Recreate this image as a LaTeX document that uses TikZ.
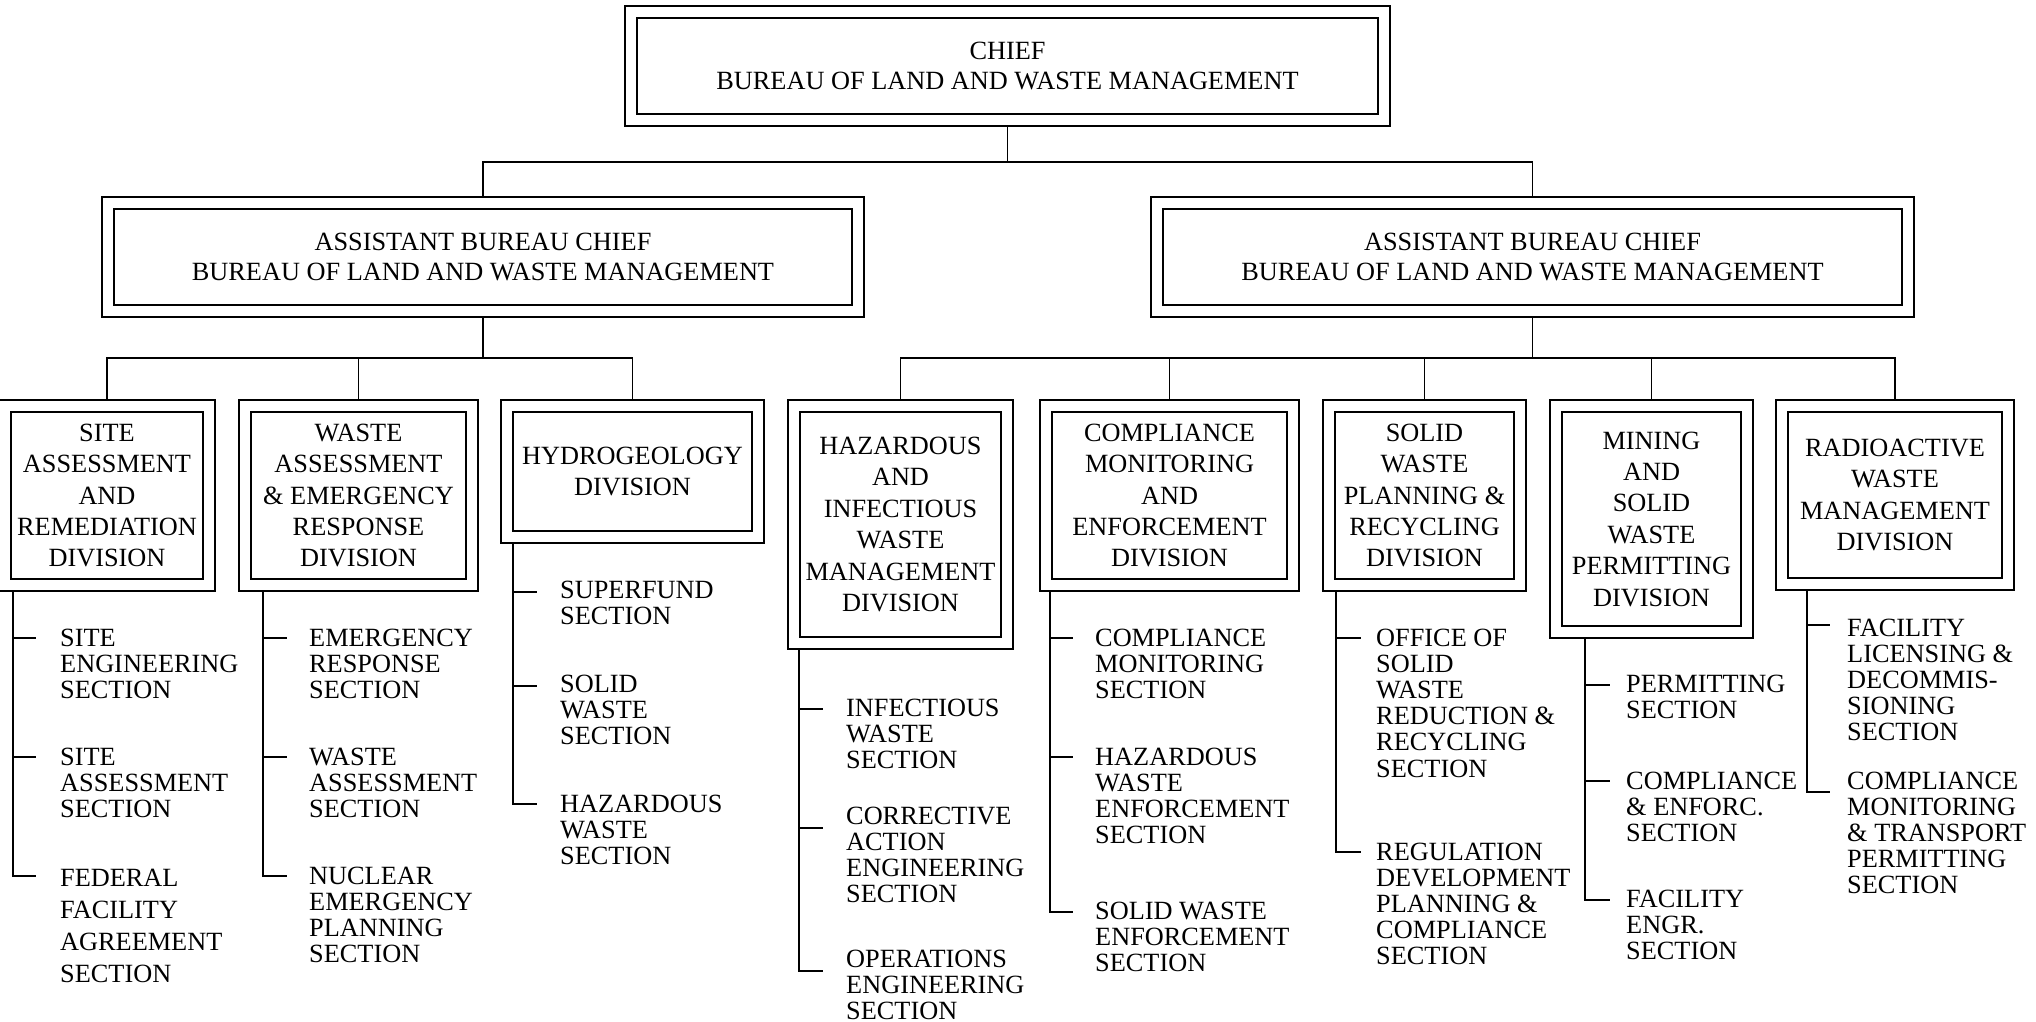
\documentclass[tikz,border=0pt]{standalone}
\usepackage{fontspec}
\setmainfont{Liberation Serif}

\tikzset{
  divbox/.style={draw, line width=1.7pt, double, double distance=10.3pt,
    inner sep=0pt, outer sep=6.85pt, align=center,
    font=\fontsize{26.3}{31.4}\selectfont},
  headbox/.style={divbox, font=\fontsize{26.3}{30.5}\selectfont},
  sectext/.style={anchor=north west, inner sep=0pt, align=left,
    font=\fontsize{26.3}{26.2}\selectfont},
  conn/.style={line width=1.7pt},
  tick/.style={conn, shorten >=#1}
}

\begin{document}
\begin{tikzpicture}[x=1pt, y=-1pt]
            \useasboundingbox (0,0) rectangle (2036,1022);

            % Leitung oben
            \node[headbox, minimum width=753pt, minimum height=108pt] (chief) at (1007.5,66)
                {CHIEF\\BUREAU OF LAND AND WASTE MANAGEMENT};
            \node[headbox, minimum width=750pt, minimum height=108pt] (la) at (483,257)
                {ASSISTANT BUREAU CHIEF\\BUREAU OF LAND AND WASTE MANAGEMENT};
            \node[headbox, minimum width=751pt, minimum height=108pt] (ra) at (1532.5,257)
                {ASSISTANT BUREAU CHIEF\\BUREAU OF LAND AND WASTE MANAGEMENT};

            % Divisionen links
            \node[divbox, minimum width=204pt, minimum height=179pt] (d1) at (107,495.5)
                {SITE\\ASSESSMENT\\AND\\REMEDIATION\\DIVISION};
            \node[divbox, minimum width=227pt, minimum height=179pt] (d2) at (358.5,495.5)
                {WASTE\\ASSESSMENT\\\& EMERGENCY\\RESPONSE\\DIVISION};
            \node[divbox, minimum width=251pt, minimum height=131pt] (d3) at (632.5,471.5)
                {HYDROGEOLOGY\\DIVISION};

            % Divisionen rechts
            \node[divbox, minimum width=213pt, minimum height=237pt] (d4) at (900.5,524.5)
                {HAZARDOUS\\AND\\INFECTIOUS\\WASTE\\MANAGEMENT\\DIVISION};
            \node[divbox, minimum width=247pt, minimum height=179pt] (d5) at (1169.5,495.5)
                {COMPLIANCE\\MONITORING\\AND\\ENFORCEMENT\\DIVISION};
            \node[divbox, minimum width=191pt, minimum height=179pt] (d6) at (1424.5,495.5)
                {SOLID\\WASTE\\PLANNING \&\\RECYCLING\\DIVISION};
            \node[divbox, minimum width=191pt, minimum height=226pt] (d7) at (1651.5,519)
                {MINING\\AND\\SOLID\\WASTE\\PERMITTING\\DIVISION};
            \node[divbox, minimum width=226pt, minimum height=178pt] (d8) at (1895,495)
                {RADIOACTIVE\\WASTE\\MANAGEMENT\\DIVISION};

            % Sammelleitungen
            \coordinate (b0) at (1007.5,162);
            \coordinate (b1) at (483,358);
            \coordinate (b2) at (1532.5,358);

            \draw[conn] (chief.south) -- (b0);
            \draw[conn] (la.north) |- (b0) -| (ra.north);

            \draw[conn] (la.south) -- (b1);
            \draw[conn] (d1.north) |- (b1) -| (d3.north);
            \draw[conn] (b1 -| d2.north) -- (d2.north);

            \draw[conn] (ra.south) -- (b2);
            \draw[conn] (d4.north) |- (b2) -| (d8.north);
            \draw[conn] (b2 -| d5.north) -- (d5.north);
            \draw[conn] (b2 -| d6.north) -- (d6.north);
            \draw[conn] (b2 -| d7.north) -- (d7.north);

            % Sektionen unter d1
            \coordinate (t11) at (13,638);
            \coordinate (t12) at (13,757);
            \coordinate (t13) at (13,876);
            \node[sectext] (s11) at (60,628.4) {SITE\\ENGINEERING\\SECTION};
            \node[sectext] (s12) at (60,747.4) {SITE\\ASSESSMENT\\SECTION};
            \node[sectext, font=\fontsize{26.3}{31.7}\selectfont] (s13) at (60,869.4)
                {FEDERAL\\FACILITY\\AGREEMENT\\SECTION};
            \draw[tick=24pt] (d1.south -| t13) -- (t13) -- (t13 -| s13.west);
            \draw[tick=24pt] (t11) -- (t11 -| s11.west);
            \draw[tick=24pt] (t12) -- (t12 -| s12.west);

            % Sektionen unter d2
            \coordinate (t21) at (263,638);
            \coordinate (t22) at (263,757);
            \coordinate (t23) at (263,876);
            \node[sectext] (s21) at (309,628.4) {EMERGENCY\\RESPONSE\\SECTION};
            \node[sectext] (s22) at (309,747.4) {WASTE\\ASSESSMENT\\SECTION};
            \node[sectext] (s23) at (309,866.4) {NUCLEAR\\EMERGENCY\\PLANNING\\SECTION};
            \draw[tick=22pt] (d2.south -| t23) -- (t23) -- (t23 -| s23.west);
            \draw[tick=22pt] (t21) -- (t21 -| s21.west);
            \draw[tick=22pt] (t22) -- (t22 -| s22.west);

            % Sektionen unter d3
            \coordinate (t31) at (513,592);
            \coordinate (t32) at (513,686);
            \coordinate (t33) at (513,804);
            \node[sectext] (s31) at (560,580.4) {SUPERFUND\\SECTION};
            \node[sectext] (s32) at (560,674.4) {SOLID\\WASTE\\SECTION};
            \node[sectext] (s33) at (560,794.4) {HAZARDOUS\\WASTE\\SECTION};
            \draw[tick=23pt] (d3.south -| t33) -- (t33) -- (t33 -| s33.west);
            \draw[tick=23pt] (t31) -- (t31 -| s31.west);
            \draw[tick=23pt] (t32) -- (t32 -| s32.west);

            % Sektionen unter d4
            \coordinate (t41) at (799,709);
            \coordinate (t42) at (799,828);
            \coordinate (t43) at (799,971);
            \node[sectext] (s41) at (846,698.4) {INFECTIOUS\\WASTE\\SECTION};
            \node[sectext] (s42) at (846,806.4) {CORRECTIVE\\ACTION\\ENGINEERING\\SECTION};
            \node[sectext] (s43) at (846,949.4) {OPERATIONS\\ENGINEERING\\SECTION};
            \draw[tick=23pt] (d4.south -| t43) -- (t43) -- (t43 -| s43.west);
            \draw[tick=23pt] (t41) -- (t41 -| s41.west);
            \draw[tick=23pt] (t42) -- (t42 -| s42.west);

            % Sektionen unter d5
            \coordinate (t51) at (1050,638);
            \coordinate (t52) at (1050,757);
            \coordinate (t53) at (1050,912);
            \node[sectext] (s51) at (1095,628.4) {COMPLIANCE\\MONITORING\\SECTION};
            \node[sectext] (s52) at (1095,747.4) {HAZARDOUS\\WASTE\\ENFORCEMENT\\SECTION};
            \node[sectext] (s53) at (1095,901.4) {SOLID WASTE\\ENFORCEMENT\\SECTION};
            \draw[tick=22pt] (d5.south -| t53) -- (t53) -- (t53 -| s53.west);
            \draw[tick=22pt] (t51) -- (t51 -| s51.west);
            \draw[tick=22pt] (t52) -- (t52 -| s52.west);

            % Sektionen unter d6
            \coordinate (t61) at (1336,638);
            \coordinate (t62) at (1336,852);
            \node[sectext] (s61) at (1376,628.4)
                {OFFICE OF\\SOLID\\WASTE\\REDUCTION \&\\RECYCLING\\SECTION};
            \node[sectext] (s62) at (1376,842.4)
                {REGULATION\\DEVELOPMENT\\PLANNING \&\\COMPLIANCE\\SECTION};
            \draw[tick=15pt] (d6.south -| t62) -- (t62) -- (t62 -| s62.west);
            \draw[tick=15pt] (t61) -- (t61 -| s61.west);

            % Sektionen unter d7
            \coordinate (t71) at (1585,685);
            \coordinate (t72) at (1585,781);
            \coordinate (t73) at (1585,900);
            \node[sectext] (s71) at (1626,674.4) {PERMITTING\\SECTION};
            \node[sectext] (s72) at (1626,771.4) {COMPLIANCE\\\& ENFORC.\\SECTION};
            \node[sectext] (s73) at (1626,889.4) {FACILITY\\ENGR.\\SECTION};
            \draw[tick=16pt] (d7.south -| t73) -- (t73) -- (t73 -| s73.west);
            \draw[tick=16pt] (t71) -- (t71 -| s71.west);
            \draw[tick=16pt] (t72) -- (t72 -| s72.west);

            % Sektionen unter d8
            \coordinate (t81) at (1807,625);
            \coordinate (t82) at (1807,792);
            \node[sectext] (s81) at (1847,618.4)
                {FACILITY\\LICENSING \&\\DECOMMIS-\\SIONING\\SECTION};
            \node[sectext] (s82) at (1847,771.4)
                {COMPLIANCE\\MONITORING\\\& TRANSPORT\\PERMITTING\\SECTION};
            \draw[tick=17pt] (d8.south -| t82) -- (t82) -- (t82 -| s82.west);
            \draw[tick=17pt] (t81) -- (t81 -| s81.west);
\end{tikzpicture}
\end{document}
